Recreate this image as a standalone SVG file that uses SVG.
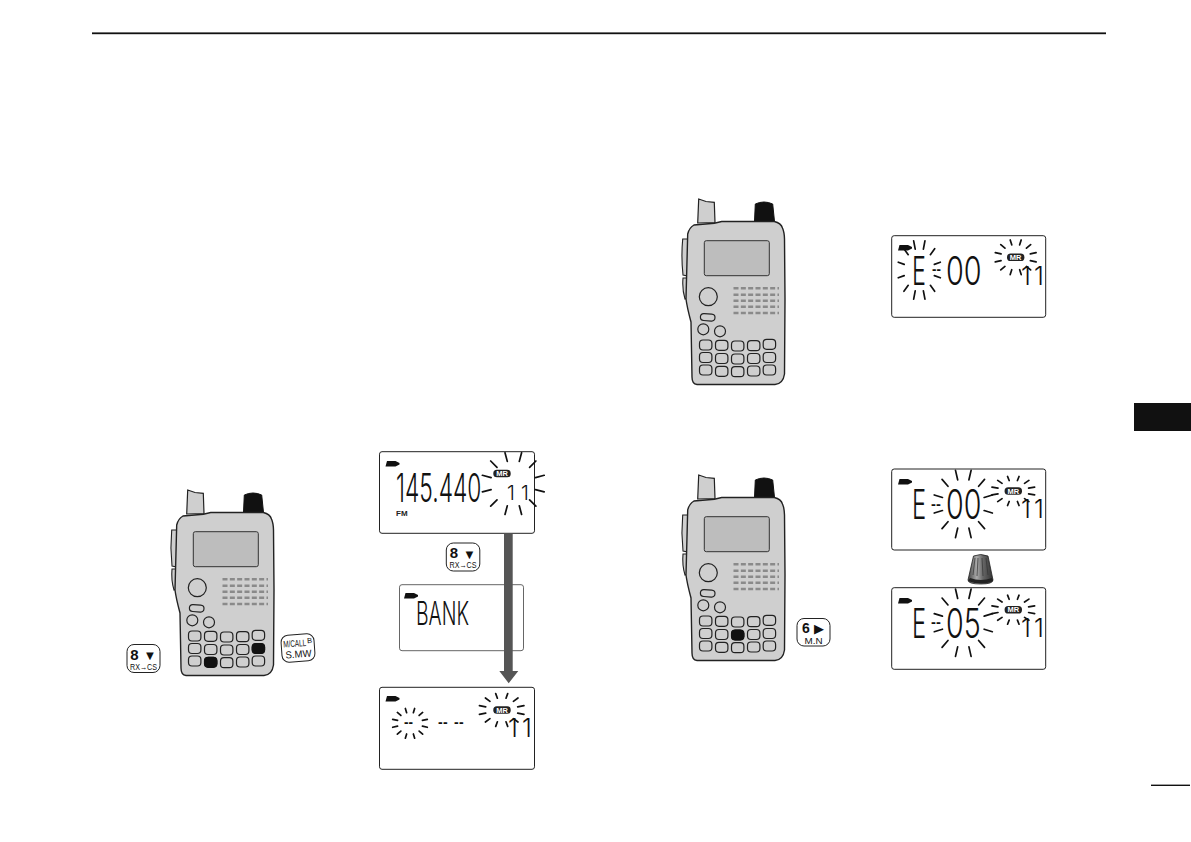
<svg xmlns="http://www.w3.org/2000/svg" width="1191" height="842" viewBox="0 0 1191 842">
<style>
.lcd{fill:#fff;stroke:#222;stroke-width:1}
.ray{stroke:#111;stroke-width:1.7;fill:none;vector-effect:non-scaling-stroke;stroke-linecap:round}
.seg{font-family:"Inter","Liberation Sans",sans-serif;font-weight:300;fill:#111;text-anchor:start}
.dsh{font-family:"Liberation Sans",sans-serif;font-weight:bold;font-size:14px;fill:#111}
.cap{fill:#fff;stroke:#222;stroke-width:1}
.ct{font-family:"Liberation Sans",sans-serif;fill:#111;text-anchor:middle}
.mr{font-family:"Liberation Sans",sans-serif;font-size:7.5px;font-weight:bold;fill:#fff;text-anchor:middle}
.key{fill:#cfcfcf;stroke:#222;stroke-width:1.2}
.kb{fill:#111;stroke:#111;stroke-width:1}
.sp{stroke:#8a8a8a;stroke-width:2.4;stroke-dasharray:5 2.33;fill:none}
</style>
<defs>
<linearGradient id="kg" x1="0" x2="1" y1="0" y2="0">
<stop offset="0" stop-color="#444"/><stop offset=".35" stop-color="#aaa"/><stop offset=".6" stop-color="#666"/><stop offset="1" stop-color="#333"/>
</linearGradient>
<g id="burst">
<path class="ray" d="M22.2 6L30.9 8.3M16.3 16.3L22.6 22.6M6 22.2L8.3 30.9M-22.2 6L-30.9 8.3M-16.3 16.3L-22.6 22.6M-6 22.2L-8.3 30.9M22.2 -6L30.9 -8.3M16.3 -16.3L22.6 -22.6M6 -22.2L8.3 -30.9M-22.2 -6L-30.9 -8.3M-16.3 -16.3L-22.6 -22.6M-6 -22.2L-8.3 -30.9"/>
</g>
<g id="mrp"><rect x="-8.7" y="-3.8" width="17.4" height="7.6" rx="3.6" fill="#222"/><text class="mr" y="2.7">MR</text></g>
<path id="bat" d="M0 0H10L14 2V3.5L10 5.5H0L1.5 0Z" fill="#111"/>
<g id="radio">
<path d="M187.7 490L195 492.5L203.3 493.3L204 513.5L186.7 514Z" fill="#cfcfcf" stroke="#222" stroke-width="1.2"/>
<path d="M244.3 495Q253 491 261.7 495L263.5 512.5H243.5Z" fill="#111" stroke="#111"/>
<path d="M171.7 530Q170 548 172 566L177 567V530ZM172 569Q171 580 174 590L177 589V569Z" fill="#cfcfcf" stroke="#222" stroke-width="1.1"/>
<path d="M210.7 512.5L263.3 512.5Q270 514 271.5 519Q273.3 523 273.5 530L274 590L273.5 665Q272 675 264 675.5H186Q181 675 181 668L180 613Q176 598 175 590L176.7 525Q178 519 183 516L203.3 514.3Z" fill="#cfcfcf" stroke="#222" stroke-width="1.4"/>
<rect x="193.3" y="531.7" width="65" height="35" rx="2" fill="#bdbdbd" stroke="#333" stroke-width="1"/>
<circle class="key" cx="197.3" cy="587.7" r="9"/>
<rect class="key" x="189.4" y="604.8" width="14.6" height="7" rx="3.5" transform="rotate(4 196.7 608.3)"/>
<circle class="key" cx="192.3" cy="620.3" r="5.5"/>
<circle class="key" cx="209" cy="622.3" r="5.5"/>
<path class="sp" d="M222.5 579.3H268M222.5 585.7H268M222.5 591.7H268M222.5 597.7H268M222.5 604H268"/>
<rect class="key" x="188.5" y="631" width="12.4" height="10" rx="3.5"/><rect class="key" x="204.5" y="631.3" width="12.4" height="10" rx="3.5"/><rect class="key" x="220.5" y="632" width="12.4" height="10" rx="3.5"/><rect class="key" x="236.5" y="631.7" width="12.4" height="10" rx="3.5"/><rect class="key" x="252.2" y="630.3" width="12.4" height="10" rx="3.5"/>
<rect class="key" x="188.5" y="643.5" width="12.4" height="10" rx="3.5"/><rect class="key" x="204.5" y="644.5" width="12.4" height="10" rx="3.5"/><rect class="key" x="220.5" y="645" width="12.4" height="10" rx="3.5"/><rect class="key" x="236.5" y="644.5" width="12.4" height="10" rx="3.5"/><rect class="key" x="252.2" y="643.5" width="12.4" height="10" rx="3.5"/>
<rect class="key" x="188.5" y="656" width="12.4" height="10" rx="3.5"/><rect class="key" x="204.5" y="657.3" width="12.4" height="10" rx="3.5"/><rect class="key" x="220.5" y="657.7" width="12.4" height="10" rx="3.5"/><rect class="key" x="236.5" y="657" width="12.4" height="10" rx="3.5"/><rect class="key" x="252.2" y="656" width="12.4" height="10" rx="3.5"/>
</g>
</defs>
<rect width="1191" height="842" fill="#fff"/>
<g id="page">
<rect x="92" y="32.4" width="1014" height="1.8" fill="#111"/>
<rect x="1134" y="403" width="57" height="28" fill="#111"/>
<rect x="1151" y="784.6" width="39" height="1.4" fill="#111"/>
</g>

<g id="radio-left"><use href="#radio"/>
<rect class="kb" x="252.2" y="643.5" width="12.4" height="10" rx="3.5"/><rect class="kb" x="204.5" y="657.3" width="12.4" height="10" rx="3.5"/></g>
<g id="radio-top"><use href="#radio" transform="translate(511 -291)"/></g>
<g id="radio-bottom"><use href="#radio" transform="translate(511 -15)"/>
<rect class="kb" x="731.5" y="630" width="12.4" height="10" rx="3.5"/></g>

<g id="key-8-left"><rect class="cap" x="127" y="644.5" width="33" height="28" rx="7"/>
<text class="ct" x="134.5" y="659.5" font-size="15" font-weight="bold">8</text><text class="ct" x="150" y="660" font-size="13">▼</text>
<text class="ct" x="143.5" y="669.5" font-size="9" textLength="27" lengthAdjust="spacingAndGlyphs">RX→CS</text></g>
<g id="key-mcall" transform="rotate(-4 298 648)"><rect class="cap" x="281.5" y="634.5" width="33" height="27" rx="7"/>
<text class="ct" x="295" y="646.5" font-size="9.5" textLength="23" lengthAdjust="spacingAndGlyphs">M/CALL</text><text class="ct" x="310" y="644" font-size="7.5">B</text>
<text class="ct" x="298" y="657.5" font-size="10" textLength="26" lengthAdjust="spacingAndGlyphs">S.MW</text></g>
<g id="key-8-mid"><rect class="cap" x="446.3" y="543" width="33.5" height="28" rx="7"/>
<text class="ct" x="454" y="558" font-size="15" font-weight="bold">8</text><text class="ct" x="469.5" y="558.5" font-size="13">▼</text>
<text class="ct" x="463" y="568" font-size="9" textLength="27" lengthAdjust="spacingAndGlyphs">RX→CS</text></g>
<g id="key-6"><rect class="cap" x="797" y="618.5" width="33" height="27.5" rx="7"/>
<text class="ct" x="806" y="633" font-size="14" font-weight="bold">6</text><text class="ct" x="819" y="633" font-size="13">▶</text>
<text class="ct" x="813.5" y="643.5" font-size="9" textLength="18" lengthAdjust="spacingAndGlyphs">M.N</text></g>

<g id="lcd-145">
<rect class="lcd" x="379.5" y="451.7" width="155" height="81.6" rx="2.5"/>
<use href="#bat" x="385.5" y="461"/>
<text class="seg" transform="translate(396 501.7) scale(.585 1)" font-size="39">145.440</text>
<text x="396" y="515.5" font-family="Liberation Sans,sans-serif" font-size="8" font-weight="bold" fill="#222">FM</text>
<use href="#burst" transform="translate(513.3 483.6)"/>
<use href="#mrp" x="502" y="473.5"/>
<text class="seg" x="507 521" y="500" font-size="20">11</text>
</g>
<g id="lcd-bank">
<rect x="399.5" y="584.7" width="124" height="66" rx="2.5" fill="#fff" stroke="#666" stroke-width="1"/>
<use href="#bat" x="404" y="593"/>
<text class="seg" x="416" y="625" font-size="32" textLength="53" lengthAdjust="spacingAndGlyphs">BANK</text>
</g>
<g id="connectors">
<path d="M504 533.5H512.7V671H518.3L508.7 683.3L499.3 671H504Z" fill="#555"/>
</g>
<g id="lcd-dashes">
<rect class="lcd" x="379.5" y="687.3" width="155" height="82" rx="2.5"/>
<use href="#bat" x="385.5" y="696"/>
<use href="#burst" transform="translate(410 723.3) scale(.56 .48)"/>
<text class="dsh" x="404" y="727" textLength="9" lengthAdjust="spacingAndGlyphs">--</text>
<text class="dsh" x="438 443 449 454 459" y="727" xml:space="preserve">-- --</text>
<use href="#burst" transform="translate(501.7 710) scale(.72 .53)"/>
<use href="#mrp" x="502" y="710"/>
<text class="seg" x="508 522" y="737" font-size="25">11</text>
</g>
<g id="lcd-e00-a">
<rect class="lcd" x="891.7" y="235.7" width="154" height="81.6" rx="2.5"/>
<use href="#bat" x="898" y="245"/>
<use href="#burst" transform="translate(919.3 270) scale(.68 .94)"/>
<text class="seg" transform="translate(912 285) scale(.6 1)" font-size="39">E</text>
<text class="dsh" transform="translate(932 274) scale(.95 1)">--</text>
<text class="seg" transform="translate(946 285) scale(.74 1)" font-size="39">00</text>
<use href="#burst" transform="translate(1015.7 257.3) scale(.66 .56)"/>
<use href="#mrp" x="1015.7" y="257.3"/>
<text class="seg" x="1021 1034" y="285" font-size="25">11</text>
</g>
<g id="lcd-e00-b">
<rect class="lcd" x="891.7" y="469" width="154" height="81" rx="2.5"/>
<use href="#bat" x="898" y="479"/>
<text class="seg" transform="translate(912 519.3) scale(.58 1)" font-size="41">E</text>
<text class="dsh" transform="translate(931 508.5) scale(1.05 1)">--</text>
<text class="seg" transform="translate(946 519.3) scale(.7 1)" font-size="41">00</text>
<use href="#burst" transform="translate(963.3 504) scale(.94 1.09)"/>
<use href="#burst" transform="translate(1013.3 491) scale(.69 .47)"/>
<use href="#mrp" x="1013.3" y="491"/>
<text class="seg" x="1021 1034" y="518" font-size="25">11</text>
</g>
<g id="dial">
<path d="M973.5 556Q980.7 553 988 556L993 580Q993 584 980.7 584Q968 584 968 580Z" fill="url(#kg)" stroke="#222" stroke-width=".8"/>
<path d="M975 558L973 575M978 558L977 576M982 558L983 576M986 558L988 575" stroke="#333" stroke-width=".7" fill="none"/>
<path d="M970 578Q980.7 582 992 578L993 581Q981 586 968 581Z" fill="#222"/>
</g>
<g id="lcd-e05">
<rect class="lcd" x="891.7" y="587.7" width="154" height="81.6" rx="2.5"/>
<use href="#bat" x="898" y="598"/>
<text class="seg" transform="translate(912 638) scale(.58 1)" font-size="41">E</text>
<text class="dsh" transform="translate(931 627.2) scale(1.05 1)">--</text>
<text class="seg" transform="translate(946 638) scale(.7 1)" font-size="41">05</text>
<use href="#burst" transform="translate(963.3 622.7) scale(.94 1.09)"/>
<use href="#burst" transform="translate(1013.3 609.7) scale(.69 .47)"/>
<use href="#mrp" x="1013.3" y="609.7"/>
<text class="seg" x="1021 1034" y="637" font-size="25">11</text>
</g>
</svg>
